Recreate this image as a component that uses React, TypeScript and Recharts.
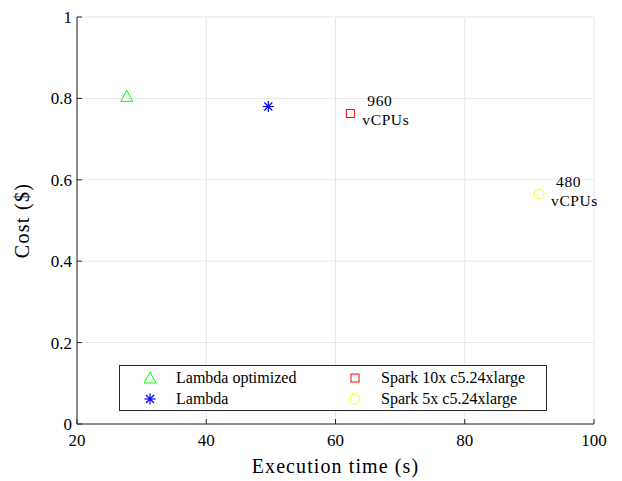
import { ScatterChart, Scatter, XAxis, YAxis, CartesianGrid, LabelList } from 'recharts';

const seriesNames = ['Lambda optimized', 'Lambda', 'Spark 10x c5.24xlarge', 'Spark 5x c5.24xlarge'];
const seriesColors = ['#00ff00', '#0000ff', '#ff0000', '#ffff00'];
const execTimes = [27.7, 49.6, 62.3, 91.5];
const costs = [0.805, 0.78, 0.763, 0.565];
const notes = ['', '', '960', '480'];

const xTicks = [20, 40, 60, 80, 100];
const yTicks = [0, 0.2, 0.4, 0.6, 0.8, 1];

const FONT = '"Liberation Serif", "DejaVu Serif", serif';

// marker shapes, MATLAB style
function Marker({ kind, cx, cy, color }: { kind: number; cx: number; cy: number; color: string }) {
  if (kind === 0) {
    return <polygon points={`${cx},${cy - 6} ${cx - 6},${cy + 5} ${cx + 6},${cy + 5}`} fill="none" stroke={color} strokeWidth={1} />;
  }
  if (kind === 1) {
    const r = 5.5;
    return (
      <g stroke={color} strokeWidth={1.2}>
        <line x1={cx} y1={cy - r} x2={cx} y2={cy + r} />
        <line x1={cx - r} y1={cy} x2={cx + r} y2={cy} />
        <line x1={cx - 4} y1={cy - 4} x2={cx + 4} y2={cy + 4} />
        <line x1={cx - 4} y1={cy + 4} x2={cx + 4} y2={cy - 4} />
      </g>
    );
  }
  if (kind === 2) {
    return <rect x={cx - 4} y={cy - 4} width={8} height={8} fill="none" stroke={color} strokeWidth={1} />;
  }
  return <circle cx={cx} cy={cy} r={5} fill="none" stroke={color} strokeWidth={1} />;
}

function NoteLabel(props: any) {
  const { x, y, width, height, value } = props;
  if (!value) return null;
  const cx = x + width / 2;
  const cy = y + height / 2;
  return (
    <g fontFamily={FONT} fontSize={15.5} fill="#000" style={{ letterSpacing: 0.6 }}>
      <text x={cx + 17} y={cy - 7}>{value}</text>
      <text x={cx + 12} y={cy + 12}>vCPUs</text>
    </g>
  );
}

export default function App() {
  const data = seriesNames.map((name, i) => [{ x: execTimes[i], y: costs[i], note: notes[i] }]);

  return (
    <div style={{ position: 'absolute', left: 0, top: 0, width: 622, height: 481, background: '#fff' }}>
      <ScatterChart width={622} height={481} margin={{ top: 17, right: 28, bottom: 0, left: 0 }}>
        <CartesianGrid stroke="#e6e6e6" strokeWidth={1} />
        <XAxis
          type="number"
          dataKey="x"
          domain={[20, 100]}
          ticks={xTicks}
          height={57}
          stroke="#262626"
          tickSize={-5}
          tickMargin={15}
          tick={{ fill: '#000', fontSize: 17, fontFamily: FONT }}
          label={{ value: 'Execution time (s)', position: 'insideBottom', offset: 8, fill: '#000', fontSize: 20, fontFamily: FONT, style: { letterSpacing: 1.1 } }}
        />
        <XAxis xAxisId="top" type="number" orientation="top" domain={[20, 100]} ticks={xTicks} height={0} stroke="#262626" tickSize={-5} tickFormatter={() => ''} />
        <YAxis
          type="number"
          dataKey="y"
          domain={[0, 1]}
          ticks={yTicks}
          width={77}
          stroke="#262626"
          tickSize={-5}
          tickMargin={10}
          tick={{ fill: '#000', fontSize: 17, fontFamily: FONT }}
          label={{ value: 'Cost ($)', angle: -90, position: 'insideLeft', offset: 22, fill: '#000', fontSize: 20, fontFamily: FONT, style: { textAnchor: 'middle', letterSpacing: 1.3 } }}
        />
        <YAxis yAxisId="right" type="number" orientation="right" domain={[0, 1]} ticks={yTicks} width={0} stroke="#262626" tickSize={-5} tickFormatter={() => ''} />
        {seriesNames.map((name, i) => (
          <Scatter
            key={name}
            name={name}
            data={data[i]}
            isAnimationActive={false}
            shape={(p: any) => <Marker kind={i} cx={p.cx} cy={p.cy} color={seriesColors[i]} />}
          >
            <LabelList dataKey="note" content={NoteLabel} />
          </Scatter>
        ))}
      </ScatterChart>
      {/* legend box, two columns like the matlab one */}
      <div
        style={{
          position: 'absolute',
          left: 119,
          top: 365,
          width: 428,
          height: 46,
          border: '1px solid #262626',
          background: '#fff',
          boxSizing: 'border-box',
          fontFamily: FONT,
          fontSize: 16,
          display: 'grid',
          gridTemplateColumns: '205px 220px',
          gridTemplateRows: '21px 21px',
          paddingTop: 1,
        }}
      >
        {[0, 2, 1, 3].map((i) => (
          <div key={i} style={{ display: 'flex', alignItems: 'center', whiteSpace: 'nowrap' }}>
            <svg width={56} height={20} style={{ flex: 'none' }}>
              <Marker kind={i} cx={30} cy={10} color={seriesColors[i]} />
            </svg>
            <span>{seriesNames[i]}</span>
          </div>
        ))}
      </div>
    </div>
  );
}
